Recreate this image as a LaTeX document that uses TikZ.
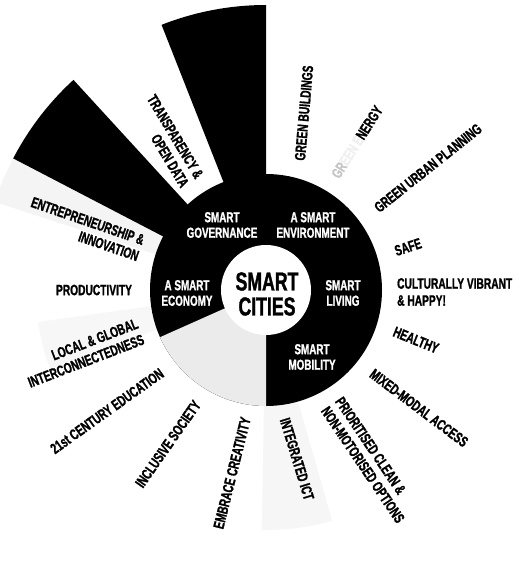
\documentclass[tikz,border=0pt]{standalone}
\usepackage{fontspec}
\newfontfamily\cf[FakeStretch=0.68, FakeBold=1.2]{Liberation Sans Bold}
\tikzset{
  lbl/.style={font=\cf\fontsize{15}{17}\selectfont, inner sep=0pt, text=black},
  ringlbl/.style={font=\cf\fontsize{14.5}{15.5}\selectfont, text=white, align=center, inner sep=0pt},
  corelbl/.style={font=\cf\fontsize{26}{25}\selectfont, align=center, inner sep=0pt},
}
\newcommand{\wedgefill}[5]{% color, a1, a2, r1, r2
  \fill[#1] (#2:#4) arc[start angle=#2, end angle=#3, radius=#4] -- (#3:#5) arc[start angle=#3, end angle=#2, radius=#5] -- cycle;}
\begin{document}
\begin{tikzpicture}[x=1pt,y=-1pt]
\useasboundingbox[fill=white] (0,0) rectangle (529,575);
\coordinate (c) at (266,290);
\begin{scope}[shift={(266,290)}, y=1pt]
  % faint scan-grey bands
  \wedgefill{gray!9}{152.5}{162}{100}{285}
  \wedgefill{gray!7}{-91}{-74}{100}{240}
  \wedgefill{gray!6}{188}{200}{100}{230}
  % outer black wedges
  \wedgefill{black}{90}{111.5}{100}{285}
  \wedgefill{black}{132.5}{152.5}{100}{285}
  % ring
  \fill[black] (0,0) circle[radius=116];
  \wedgefill{gray!16}{204}{270}{44}{116}
  \fill[white] (0,0) circle[radius=45];
\end{scope}
% core and ring labels
\node[corelbl] (core) at (267,294) {SMART\\CITIES};
\node[ringlbl] (gov) at (222,225) {SMART\\GOVERNANCE};
\node[ringlbl] (env) at (313,225) {A SMART\\ENVIRONMENT};
\node[ringlbl] (liv) at (343,293) {SMART\\LIVING};
\node[ringlbl] (mob) at (312,357) {SMART\\MOBILITY};
\node[ringlbl] (eco) at (187,293) {A SMART\\ECONOMY};
% outer labels
\node[lbl, align=right, rotate=-59] (transp) at (168,141) {TRANSPARENCY \&\\OPEN DATA};
\node[lbl, rotate=85] (gbuild) at (304,113) {GREEN BUILDINGS};
\node[lbl, rotate=57.6] (genergy) at (357,142) {\textcolor{gray!45}{GR}\textcolor{gray!12}{EEN E}NERGY};
\node[lbl, rotate=38.5] (gurban) at (428,168) {GREEN URBAN PLANNING};
\node[lbl, rotate=18] (safe) at (408,247) {SAFE};
\node[lbl, align=left, anchor=west] (cult) at (397,292) {CULTURALLY VIBRANT\\\& HAPPY!};
\node[lbl, rotate=-22] (healthy) at (416,340) {HEALTHY};
\node[lbl, rotate=-37] (mixed) at (419,408) {MIXED-MODAL ACCESS};
\node[lbl, align=left, rotate=-56] (prior) at (370,460) {PRIORITISED CLEAN \&\\NON-MOTORISED OPTIONS};
\node[lbl, rotate=-73] (ict) at (297,459) {INTEGRATED ICT};
\node[lbl, rotate=76] (embrace) at (232,473) {EMBRACE CREATIVITY};
\node[lbl, rotate=55] (incl) at (168,444) {INCLUSIVE SOCIETY};
\node[lbl, rotate=35.5] (edu) at (107,411) {21st CENTURY EDUCATION};
\node[lbl, align=right, rotate=21] (local) at (83,353) {LOCAL \& GLOBAL\\INTERCONNECTEDNESS};
\node[lbl] (prod) at (94,290) {PRODUCTIVITY};
\node[lbl, align=right, rotate=-19] (entre) at (85,229) {ENTREPRENEURSHIP \&\\INNOVATION};
\end{tikzpicture}
\end{document}
